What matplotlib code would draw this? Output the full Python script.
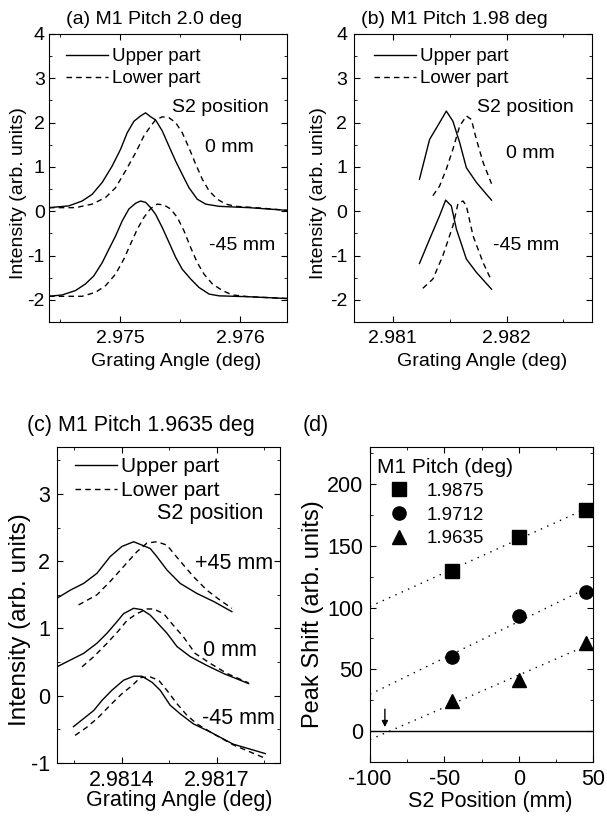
import numpy as np
import matplotlib
matplotlib.use('Agg')
import matplotlib.pyplot as plt
from matplotlib.ticker import MultipleLocator

plt.rcParams['font.family'] = ['Liberation Sans', 'DejaVu Sans']
plt.rcParams['axes.unicode_minus'] = False

# ---- panel (a): M1 pitch 2.0 deg ----
a_up0_x = [2.974410, 2.974575, 2.974686, 2.974769, 2.974853, 2.974936, 2.975006, 2.975061, 2.975117,
           2.975172, 2.975214, 2.975256, 2.975297, 2.975353, 2.975408, 2.975464, 2.975519, 2.975575,
           2.975644, 2.975714, 2.975825, 2.976075, 2.976390]
a_up0_y = [0.08, 0.12, 0.23, 0.38, 0.65, 1.02, 1.40, 1.77, 2.03, 2.15, 2.22, 2.13, 2.06, 1.81, 1.47,
           1.13, 0.83, 0.53, 0.27, 0.16, 0.11, 0.08, 0.02]
a_lo0_x = [2.974410, 2.974631, 2.974769, 2.974881, 2.974964, 2.975047, 2.975131, 2.975200, 2.975256,
           2.975297, 2.975353, 2.975408, 2.975464, 2.975519, 2.975575, 2.975631, 2.975686, 2.975742,
           2.975811, 2.975881, 2.975964, 2.976131, 2.976390]
a_lo0_y = [0.08, 0.08, 0.16, 0.31, 0.53, 0.91, 1.32, 1.70, 1.92, 2.06, 2.13, 2.11, 2.00, 1.77, 1.43,
           1.06, 0.72, 0.46, 0.27, 0.16, 0.11, 0.08, 0.02]
a_up45_x = [2.974410, 2.974519, 2.974631, 2.974714, 2.974783, 2.974853, 2.974908, 2.974964, 2.975019,
            2.975075, 2.975131, 2.975172, 2.975214, 2.975256, 2.975297, 2.975353, 2.975408, 2.975464,
            2.975519, 2.975589, 2.975658, 2.975742, 2.975825, 2.976075, 2.976390]
a_up45_y = [-1.92, -1.89, -1.79, -1.64, -1.46, -1.16, -0.86, -0.56, -0.22, 0.05, 0.18, 0.23, 0.20,
            0.08, -0.07, -0.37, -0.70, -1.04, -1.31, -1.53, -1.72, -1.87, -1.91, -1.93, -1.97]
a_lo45_x = [2.974410, 2.974686, 2.974797, 2.974881, 2.974964, 2.975033, 2.975089, 2.975144, 2.975200,
            2.975256, 2.975311, 2.975367, 2.975422, 2.975478, 2.975533, 2.975589, 2.975644, 2.975700,
            2.975769, 2.975853, 2.975936, 2.976075, 2.976390]
a_lo45_y = [-1.92, -1.92, -1.83, -1.68, -1.42, -1.08, -0.74, -0.41, -0.14, 0.06, 0.16, 0.14, 0.05,
            -0.14, -0.44, -0.82, -1.16, -1.42, -1.64, -1.79, -1.89, -1.93, -1.97]

# ---- panel (b): M1 pitch 1.98 deg ----
b_up0_x = [2.981235, 2.981324, 2.981412, 2.981471, 2.981529, 2.981588, 2.981647, 2.981735, 2.981824, 2.981868]
b_up0_y = [0.72, 1.62, 2.00, 2.26, 2.03, 1.55, 0.98, 0.65, 0.38, 0.25]
b_lo0_x = [2.981353, 2.981412, 2.981471, 2.981529, 2.981588, 2.981647, 2.981691, 2.981735, 2.981794, 2.981868]
b_lo0_y = [0.35, 0.57, 0.95, 1.40, 1.92, 2.15, 2.07, 1.62, 1.10, 0.62]
b_up45_x = [2.981235, 2.981324, 2.981412, 2.981465, 2.981515, 2.981559, 2.981647, 2.981735, 2.981868]
b_up45_y = [-1.18, -0.63, -0.10, 0.25, 0.12, -0.40, -1.08, -1.38, -1.76]
b_lo45_x = [2.981265, 2.981353, 2.981441, 2.981529, 2.981574, 2.981618, 2.981647, 2.981706, 2.981794, 2.981868]
b_lo45_y = [-1.74, -1.53, -1.00, -0.33, 0.18, 0.23, 0.12, -0.56, -1.16, -1.57]

# ---- panel (c): M1 pitch 1.9635 deg ----
c_up45_x = [2.981196, 2.981238, 2.981280, 2.981322, 2.981364, 2.981401, 2.981438, 2.981464, 2.981490,
            2.981511, 2.981543, 2.981585, 2.981638, 2.981691, 2.981748]
c_up45_y = [1.45, 1.57, 1.67, 1.82, 2.07, 2.22, 2.29, 2.24, 2.19, 2.07, 1.87, 1.67, 1.52, 1.40, 1.25]
c_lo45_x = [2.981264, 2.981322, 2.981364, 2.981406, 2.981448, 2.981480, 2.981511, 2.981543, 2.981569,
            2.981596, 2.981627, 2.981669, 2.981711, 2.981748]
c_lo45_y = [1.35, 1.50, 1.70, 1.92, 2.14, 2.27, 2.29, 2.24, 2.09, 1.94, 1.77, 1.57, 1.42, 1.30]
c_up0_x = [2.981196, 2.981238, 2.981280, 2.981322, 2.981354, 2.981385, 2.981406, 2.981438, 2.981464,
           2.981490, 2.981506, 2.981543, 2.981575, 2.981617, 2.981669, 2.981722, 2.981801]
c_up0_y = [0.43, 0.53, 0.63, 0.78, 0.93, 1.10, 1.22, 1.30, 1.28, 1.20, 1.12, 0.93, 0.73, 0.58, 0.45,
           0.33, 0.18]
c_lo0_x = [2.981275, 2.981312, 2.981354, 2.981391, 2.981417, 2.981448, 2.981480, 2.981501, 2.981533,
           2.981559, 2.981596, 2.981632, 2.981680, 2.981733, 2.981801]
c_lo0_y = [0.43, 0.58, 0.78, 0.97, 1.12, 1.22, 1.29, 1.29, 1.22, 1.07, 0.87, 0.63, 0.48, 0.33, 0.19]
c_upm45_x = [2.981248, 2.981280, 2.981312, 2.981338, 2.981369, 2.981406, 2.981438, 2.981464, 2.981496,
             2.981522, 2.981553, 2.981585, 2.981627, 2.981680, 2.981752, 2.981853]
c_upm45_y = [-0.46, -0.34, -0.22, -0.07, 0.08, 0.23, 0.29, 0.29, 0.20, 0.08, -0.14, -0.27, -0.42,
             -0.54, -0.72, -0.86]
c_lom45_x = [2.981253, 2.981290, 2.981327, 2.981364, 2.981401, 2.981433, 2.981459, 2.981490, 2.981517,
             2.981543, 2.981575, 2.981606, 2.981638, 2.981691, 2.981752, 2.981853]
c_lom45_y = [-0.59, -0.47, -0.32, -0.14, 0.03, 0.15, 0.27, 0.28, 0.23, 0.08, -0.12, -0.29, -0.42,
             -0.57, -0.73, -0.93]

# ---- panel (d): peak shift vs S2 position ----
s2_pos = [-45, 0, 45]
pitch_labels = ['1.9875', '1.9712', '1.9635']
shift_19875 = [130, 157, 179]
shift_19712 = [60, 93, 113]
shift_19635 = [24, 41, 71]

DASH = (0, (4, 3))


def style_axes(ax, xmaj, xmin, ymaj, ymin, size, xpad=5, ypad=3):
    ax.xaxis.set_major_locator(MultipleLocator(xmaj))
    ax.xaxis.set_minor_locator(MultipleLocator(xmin))
    ax.yaxis.set_major_locator(MultipleLocator(ymaj))
    ax.yaxis.set_minor_locator(MultipleLocator(ymin))
    ax.tick_params(which='both', direction='in', top=True, right=True, labelsize=size)
    ax.tick_params(which='major', length=4)
    ax.tick_params(which='minor', length=2.5)
    ax.tick_params(axis='x', pad=xpad)
    ax.tick_params(axis='y', pad=ypad)


def axis_labels(ax, xlab, ylab, xsize, ysize, xpos, ypos):
    ax.set_xlabel(xlab, fontsize=xsize, va='center')
    ax.set_ylabel(ylab, fontsize=ysize, va='center')
    ax.xaxis.set_label_coords(*xpos)
    ax.yaxis.set_label_coords(*ypos)


def spectrum_panel(ax, curves, legend_pos, hlen, texts, size):
    lines = []
    for x, y, ls in curves:
        ln, = ax.plot(x, y, color='k', lw=1.0, linestyle=ls)
        lines.append(ln)
    ax.legend(lines[:2], ['Upper part', 'Lower part'], loc='upper left',
              bbox_to_anchor=legend_pos, frameon=False, fontsize=size - 0.5,
              handlelength=hlen, handletextpad=0.2, labelspacing=0.25,
              borderpad=0, borderaxespad=0)
    for txt, (tx, ty) in texts:
        ax.text(tx, ty, txt, transform=ax.transAxes, ha='center', va='center', fontsize=size)


fig = plt.figure(figsize=(6.07, 8.16), dpi=100)
ax_a = fig.add_axes([0.0807, 0.6054, 0.392, 0.353])
ax_b = fig.add_axes([0.5832, 0.6054, 0.392, 0.353])
ax_c = fig.add_axes([0.0939, 0.0650, 0.3674, 0.3873])
ax_d = fig.add_axes([0.6096, 0.0662, 0.3674, 0.3860])

fs_top = 14
fs_bot = 15.5

# (a)
spectrum_panel(ax_a, [(a_up0_x, a_up0_y, '-'), (a_lo0_x, a_lo0_y, DASH),
                      (a_up45_x, a_up45_y, '-'), (a_lo45_x, a_lo45_y, DASH)],
               (0.07, 0.95), 2.25,
               [('S2 position', (0.72, 0.745)), ('0 mm', (0.76, 0.605)),
                ('-45 mm', (0.81, 0.265))], fs_top)
ax_a.set_xlim(2.97441, 2.97639)
ax_a.set_ylim(-2.5, 4)
style_axes(ax_a, 0.001, 0.0005, 1, 0.5, fs_top, xpad=6, ypad=3)
ax_a.set_xticks([2.975, 2.976])
ax_a.set_xticklabels(['2.975', '2.976'])
axis_labels(ax_a, 'Grating Angle (deg)', 'Intensity (arb. units)', fs_top, fs_top,
            (0.534, -0.138), (-0.130, 0.448))
ax_a.text(0.07, 1.02, '(a) M1 Pitch 2.0 deg', transform=ax_a.transAxes, fontsize=fs_top,
          ha='left', va='bottom')

# (b)
spectrum_panel(ax_b, [(b_up0_x, b_up0_y, '-'), (b_lo0_x, b_lo0_y, DASH),
                      (b_up45_x, b_up45_y, '-'), (b_lo45_x, b_lo45_y, DASH)],
               (0.085, 0.95), 2.25,
               [('S2 position', (0.72, 0.745)), ('0 mm', (0.74, 0.585)),
                ('-45 mm', (0.725, 0.265))], fs_top)
ax_b.set_xlim(2.98066, 2.98275)
ax_b.set_ylim(-2.5, 4)
style_axes(ax_b, 0.001, 0.0005, 1, 0.5, fs_top, xpad=6, ypad=5)
ax_b.set_xticks([2.981, 2.982])
ax_b.set_xticklabels(['2.981', '2.982'])
axis_labels(ax_b, 'Grating Angle (deg)', 'Intensity (arb. units)', fs_top, fs_top,
            (0.538, -0.138), (-0.151, 0.448))
ax_b.text(0.03, 1.02, '(b) M1 Pitch 1.98 deg', transform=ax_b.transAxes, fontsize=fs_top,
          ha='left', va='bottom')

# (c)
spectrum_panel(ax_c, [(c_up45_x, c_up45_y, '-'), (c_lo45_x, c_lo45_y, DASH),
                      (c_up0_x, c_up0_y, '-'), (c_lo0_x, c_lo0_y, DASH),
                      (c_upm45_x, c_upm45_y, '-'), (c_lom45_x, c_lom45_y, DASH)],
               (0.08, 0.968), 2.0,
               [('S2 position', (0.685, 0.79)), ('+45 mm', (0.795, 0.63)),
                ('0 mm', (0.775, 0.355)), ('-45 mm', (0.815, 0.14))], fs_bot)
ax_c.set_xlim(2.981196, 2.9819)
ax_c.set_ylim(-1, 3.7)
style_axes(ax_c, 0.0003, 0.00015, 1, 0.5, fs_bot, xpad=5, ypad=5)
ax_c.set_xticks([2.9814, 2.9817])
ax_c.set_xticklabels(['2.9814', '2.9817'])
axis_labels(ax_c, 'Grating Angle (deg)', 'Intensity (arb. units)', fs_bot, 17.5,
            (0.547, -0.12), (-0.166, 0.453))
ax_c.text(-0.135, 1.035, '(c) M1 Pitch 1.9635 deg', transform=ax_c.transAxes, fontsize=fs_bot,
          ha='left', va='bottom')

# (d)
markers = ['s', 'o', '^']
fit_x = np.array([-100, 45])
for shifts, mk, lab in zip([shift_19875, shift_19712, shift_19635], markers, pitch_labels):
    ax_d.plot(s2_pos, shifts, linestyle='none', marker=mk, color='k', markersize=9.5, label=lab)
    coef = np.polyfit(s2_pos, shifts, 1)
    ax_d.plot(fit_x, np.polyval(coef, fit_x), color='k', lw=1.0, linestyle=(0, (1, 4)))
ax_d.axhline(0, color='k', lw=1.0)
ax_d.annotate('', xy=(-90, 1), xytext=(-90, 20),
              arrowprops=dict(arrowstyle='-|>', color='k', lw=1.0, mutation_scale=9))
ax_d.set_xlim(-100, 50)
ax_d.set_ylim(-25, 230)
style_axes(ax_d, 50, 25, 50, 25, fs_bot, xpad=5, ypad=5)
axis_labels(ax_d, 'S2 Position (mm)', 'Peak Shift (arb. units)', fs_bot, 17,
            (0.54, -0.124), (-0.256, 0.47))
ax_d.text(0.031, 0.935, 'M1 Pitch (deg)', transform=ax_d.transAxes, fontsize=15,
          ha='left', va='center')
ax_d.legend(loc='upper left', bbox_to_anchor=(0.036, 0.886), frameon=False, fontsize=13.5,
            handlelength=2.2, handletextpad=0.4, labelspacing=0.35,
            borderpad=0, borderaxespad=0)
ax_d.text(-0.3, 1.035, '(d)', transform=ax_d.transAxes, fontsize=fs_bot, ha='left', va='bottom')

plt.savefig('out.png', dpi=100)
